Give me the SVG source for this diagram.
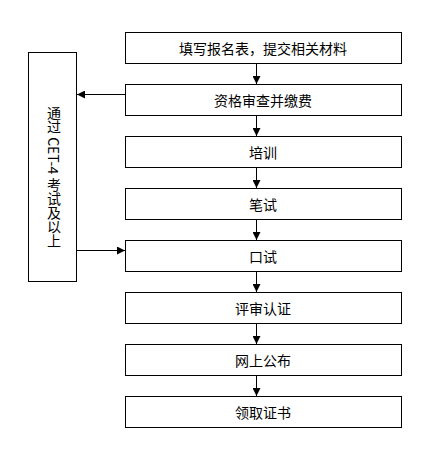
<svg xmlns="http://www.w3.org/2000/svg" width="428" height="449" viewBox="0 0 428 449">
<style>
.box{fill:#fff;stroke:#000;stroke-width:1}
.t{font-family:"Noto Sans CJK SC","Liberation Sans",sans-serif;font-size:14px;fill:#000;text-anchor:middle;dominant-baseline:central}
.v{font-family:"Noto Sans CJK SC","Liberation Sans",sans-serif;font-size:14px;fill:#000;writing-mode:vertical-rl}
.c{stroke:#000;stroke-width:1;fill:none;marker-end:url(#ah)}
</style>
<defs>
<marker id="ah" viewBox="0 0 10 10" refX="10" refY="5" markerWidth="8" markerHeight="8" markerUnits="userSpaceOnUse" orient="auto">
<path d="M0,0 L10,5 L0,10 z" fill="#000"/>
</marker>
</defs>
<rect width="428" height="449" fill="#fff"/>
<g id="connectors">
<line class="c" x1="256.5" y1="63" x2="256.5" y2="84"/>
<line class="c" x1="256.5" y1="115" x2="256.5" y2="136"/>
<line class="c" x1="256.5" y1="167" x2="256.5" y2="188"/>
<line class="c" x1="256.5" y1="219" x2="256.5" y2="240"/>
<line class="c" x1="256.5" y1="271" x2="256.5" y2="292"/>
<line class="c" x1="256.5" y1="323" x2="256.5" y2="344"/>
<line class="c" x1="256.5" y1="375" x2="256.5" y2="396"/>
<line class="c" x1="125" y1="94.5" x2="77" y2="94.5"/>
<line class="c" x1="77" y1="250.5" x2="125" y2="250.5"/>
</g>
<g id="n1"><rect class="box" x="125.5" y="32.5" width="276" height="31"/><text class="t" x="263" y="48">填写报名表，提交相关材料</text></g>
<g id="n2"><rect class="box" x="125.5" y="84.5" width="276" height="31"/><text class="t" x="263" y="100">资格审查并缴费</text></g>
<g id="n3"><rect class="box" x="125.5" y="136.5" width="276" height="31"/><text class="t" x="263" y="152">培训</text></g>
<g id="n4"><rect class="box" x="125.5" y="188.5" width="276" height="31"/><text class="t" x="263" y="204">笔试</text></g>
<g id="n5"><rect class="box" x="125.5" y="240.5" width="276" height="31"/><text class="t" x="263" y="256">口试</text></g>
<g id="n6"><rect class="box" x="125.5" y="292.5" width="276" height="31"/><text class="t" x="263" y="308">评审认证</text></g>
<g id="n7"><rect class="box" x="125.5" y="344.5" width="276" height="31"/><text class="t" x="263" y="360">网上公布</text></g>
<g id="n8"><rect class="box" x="125.5" y="396.5" width="276" height="31"/><text class="t" x="263" y="412">领取证书</text></g>
<g id="n0"><rect class="box" x="28.5" y="52.5" width="48" height="229"/><text class="v" x="54" y="106">通过 CET-4 考试及以上</text></g>
</svg>
